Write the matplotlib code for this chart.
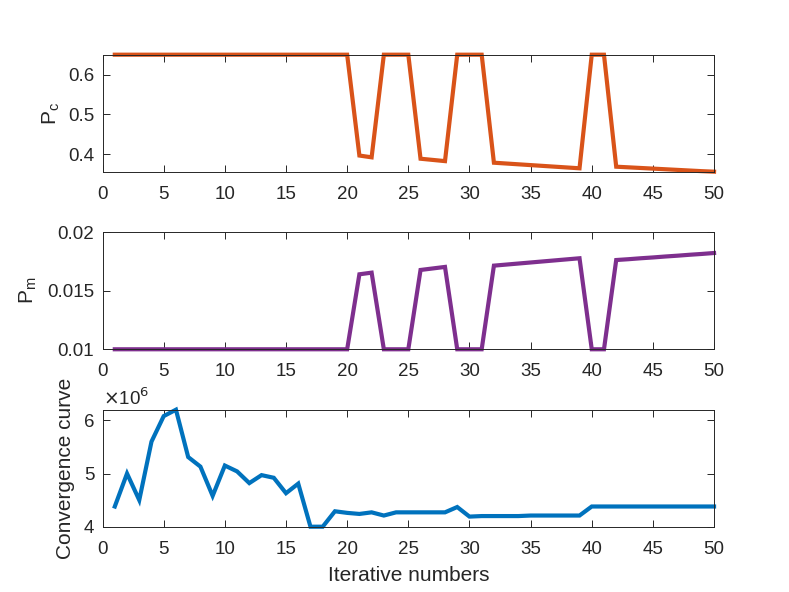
import numpy as np
import matplotlib
matplotlib.use("Agg")
import matplotlib.pyplot as plt
from matplotlib.ticker import FuncFormatter

iterations = list(range(1, 51))

pc_values = [0.65, 0.65, 0.65, 0.65, 0.65, 0.65, 0.65, 0.65, 0.65, 0.65,
             0.65, 0.65, 0.65, 0.65, 0.65, 0.65, 0.65, 0.65, 0.65, 0.65,
             0.397, 0.3925, 0.65, 0.65, 0.65, 0.389, 0.386, 0.383, 0.65, 0.65,
             0.65, 0.379, 0.377, 0.375, 0.373, 0.371, 0.369, 0.367, 0.365, 0.65,
             0.65, 0.369, 0.3674, 0.3658, 0.3642, 0.3626, 0.361, 0.3594, 0.3578, 0.3565]

pm_values = [0.01, 0.01, 0.01, 0.01, 0.01, 0.01, 0.01, 0.01, 0.01, 0.01,
             0.01, 0.01, 0.01, 0.01, 0.01, 0.01, 0.01, 0.01, 0.01, 0.01,
             0.01641, 0.01655, 0.01, 0.01, 0.01, 0.01678, 0.01691, 0.01704, 0.01, 0.01,
             0.01, 0.01715, 0.01724, 0.01733, 0.01742, 0.01751, 0.0176, 0.01769, 0.01778, 0.01,
             0.01, 0.01763, 0.0177, 0.01778, 0.01785, 0.01793, 0.018, 0.01808, 0.01815, 0.01823]

conv_values = [4.38e6, 5.00e6, 4.50e6, 5.60e6, 6.08e6, 6.20e6, 5.31e6, 5.13e6, 4.58e6, 5.15e6,
               5.04e6, 4.82e6, 4.97e6, 4.92e6, 4.63e6, 4.81e6, 4.00e6, 4.00e6, 4.29e6, 4.26e6,
               4.24e6, 4.27e6, 4.21e6, 4.27e6, 4.27e6, 4.27e6, 4.27e6, 4.27e6, 4.37e6, 4.19e6,
               4.20e6, 4.20e6, 4.20e6, 4.20e6, 4.21e6, 4.21e6, 4.21e6, 4.21e6, 4.21e6, 4.38e6,
               4.38e6, 4.38e6, 4.38e6, 4.38e6, 4.38e6, 4.38e6, 4.38e6, 4.38e6, 4.38e6, 4.38e6]

x_ticks = [0, 5, 10, 15, 20, 25, 30, 35, 40, 45, 50]

plt.rcParams['font.family'] = ['Liberation Sans', 'DejaVu Sans']
axcol = '#262626'

fig = plt.figure(figsize=(7.89, 5.92), dpi=100)
left, width, height = 0.130, 0.775, 0.1976
ax1 = fig.add_axes([left, 0.7100, width, height])
ax2 = fig.add_axes([left, 0.4100, width, height])
ax3 = fig.add_axes([left, 0.1103, width, height])

ax1.plot(iterations, pc_values, color='#D95319', lw=3, clip_on=False, solid_joinstyle='miter')
ax2.plot(iterations, pm_values, color='#7E2F8E', lw=3, clip_on=False, solid_joinstyle='miter')
ax3.plot(iterations, conv_values, color='#0072BD', lw=3, clip_on=False, solid_joinstyle='miter')

ax1.set_ylim(min(pc_values), max(pc_values))
ax1.set_yticks([0.4, 0.5, 0.6])
ax2.set_ylim(0.01, 0.02)
ax2.set_yticks([0.01, 0.015, 0.02])
ax2.yaxis.set_major_formatter(FuncFormatter(lambda v, p: f"{v:g}"))
ax3.set_ylim(min(conv_values), max(conv_values))
ax3.set_yticks([4e6, 5e6, 6e6])
ax3.yaxis.set_major_formatter(FuncFormatter(lambda v, p: f"{v/1e6:g}"))
ax3.text(0.0, 1.01, r'$\times$10$^{6}$', transform=ax3.transAxes, fontsize=13.5,
         color=axcol, ha='left', va='bottom')

for ax in (ax1, ax2, ax3):
    ax.set_xlim(0, 50)
    ax.set_xticks(x_ticks)
    ax.tick_params(direction='in', length=5, width=0.7, top=True, right=True,
                   labelsize=13.5, colors=axcol, pad=6)
    ax.tick_params(axis='x', pad=10)
    for s in ax.spines.values():
        s.set_color(axcol)
        s.set_linewidth(0.7)

ax1.set_ylabel('P$_\\mathregular{c}$', fontsize=15, color=axcol, labelpad=4)
ax2.set_ylabel('P$_\\mathregular{m}$', fontsize=15, color=axcol, labelpad=6)
ax3.set_ylabel('Convergence curve', fontsize=15, color=axcol, labelpad=6)
ax3.set_xlabel('Iterative numbers', fontsize=15, color=axcol, labelpad=6)

fig.savefig('out.png', dpi=100)
